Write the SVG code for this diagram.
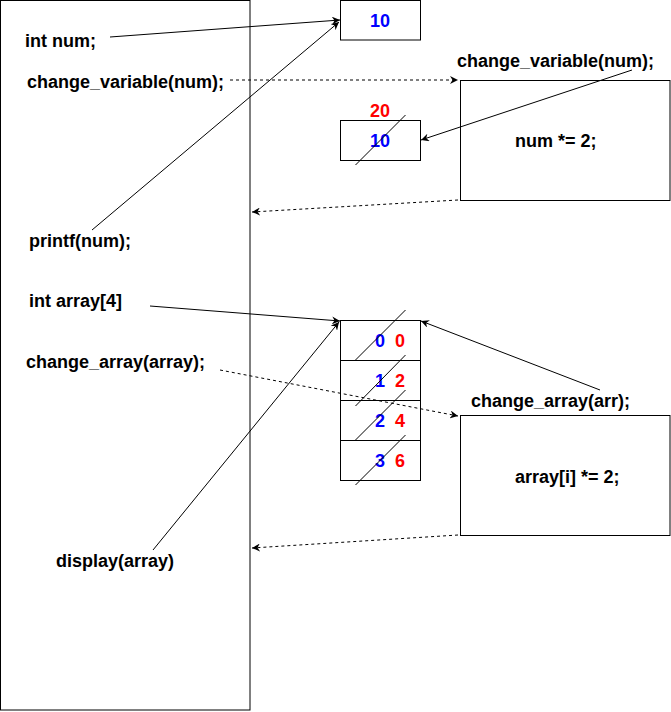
<svg xmlns="http://www.w3.org/2000/svg" width="671" height="712" viewBox="0 0 671 712">
  <style>
    .box { fill: #ffffff; stroke: #000000; stroke-width: 1; }
    .lbl { font-family: "Liberation Sans", Arial, Helvetica, sans-serif; font-weight: bold; font-size: 18px; fill: #000000; }
    .num { font-family: "Liberation Sans", Arial, Helvetica, sans-serif; font-weight: bold; font-size: 18px; text-anchor: middle; }
    .blue { fill: #0000ff; }
    .red { fill: #ff0000; }
    .edge { fill: none; stroke: #000000; stroke-width: 1; }
    .dash { stroke-dasharray: 3 3; }
    .strike { fill: none; stroke: #000000; stroke-width: 1; }
  </style>
  <defs>
    <marker id="arrow" markerUnits="userSpaceOnUse" markerWidth="10" markerHeight="8" refX="8" refY="4" orient="auto">
      <path d="M0,0 L8,4 L0,8 L2.5,4 Z" fill="#000000"/>
    </marker>
  </defs>
  <rect width="671" height="712" fill="#ffffff"/>

  <g id="main">
    <rect class="box" x="0.5" y="0.5" width="249.5" height="709.5"/>
    <text class="lbl" x="25" y="47">int num;</text>
    <text class="lbl" x="27" y="88">change_variable(num);</text>
    <text class="lbl" x="29" y="247">printf(num);</text>
    <text class="lbl" x="29" y="307">int array[4]</text>
    <text class="lbl" x="26" y="368">change_array(array);</text>
    <text class="lbl" x="56" y="567">display(array)</text>
  </g>

  <g id="num-cell">
    <rect class="box" x="340.5" y="0.5" width="80" height="39.5"/>
    <text class="num blue" x="380" y="27">10</text>
  </g>

  <g id="num-copy">
    <rect class="box" x="340.5" y="120.5" width="80" height="40"/>
    <text class="num red" x="380" y="117">20</text>
    <text class="num blue" x="380" y="147">10</text>
  </g>

  <g id="func-variable">
    <rect class="box" x="460.5" y="80.5" width="209.5" height="120"/>
    <text class="lbl" x="457" y="67">change_variable(num);</text>
    <text class="lbl" x="515" y="147">num *= 2;</text>
  </g>

  <g id="array-cells">
    <rect class="box" x="340.5" y="320.5" width="80" height="40"/>
    <rect class="box" x="340.5" y="360.5" width="80" height="40"/>
    <rect class="box" x="340.5" y="400.5" width="80" height="40"/>
    <rect class="box" x="340.5" y="440.5" width="80" height="40"/>
    <text class="num blue" x="380" y="347">0</text>
    <text class="num red" x="400" y="347">0</text>
    <text class="num blue" x="380" y="387">1</text>
    <text class="num red" x="400" y="387">2</text>
    <text class="num blue" x="380" y="427">2</text>
    <text class="num red" x="400" y="427">4</text>
    <text class="num blue" x="380" y="467">3</text>
    <text class="num red" x="400" y="467">6</text>
  </g>

  <g id="func-array">
    <rect class="box" x="460.5" y="415.5" width="209.5" height="120"/>
    <text class="lbl" x="471" y="407">change_array(arr);</text>
    <text class="lbl" x="515" y="483">array[i] *= 2;</text>
  </g>

  <g id="strikes">
    <line class="strike" x1="355.5" y1="165" x2="405.5" y2="115"/>
    <line class="strike" x1="355.5" y1="360" x2="405.5" y2="310"/>
    <line class="strike" x1="355.5" y1="406" x2="405.5" y2="355"/>
    <line class="strike" x1="355.5" y1="440" x2="405.5" y2="390"/>
    <line class="strike" x1="355.5" y1="485" x2="405.5" y2="435"/>
  </g>

  <g id="connectors">
    <line class="edge" x1="110" y1="37" x2="340" y2="20" marker-end="url(#arrow)"/>
    <line class="edge" x1="92" y1="230" x2="339" y2="22" marker-end="url(#arrow)"/>
    <line class="edge dash" x1="230" y1="80" x2="458" y2="80" marker-end="url(#arrow)"/>
    <line class="edge" x1="632" y1="70" x2="421" y2="140" marker-end="url(#arrow)"/>
    <line class="edge dash" x1="458" y1="200" x2="252" y2="212" marker-end="url(#arrow)"/>
    <line class="edge" x1="150" y1="306" x2="340" y2="321" marker-end="url(#arrow)"/>
    <line class="edge" x1="153" y1="550" x2="339" y2="322" marker-end="url(#arrow)"/>
    <line class="edge dash" x1="220" y1="370" x2="458" y2="416" marker-end="url(#arrow)"/>
    <line class="edge" x1="600" y1="390" x2="421" y2="321" marker-end="url(#arrow)"/>
    <line class="edge dash" x1="458" y1="535" x2="252" y2="548" marker-end="url(#arrow)"/>
  </g>
</svg>
